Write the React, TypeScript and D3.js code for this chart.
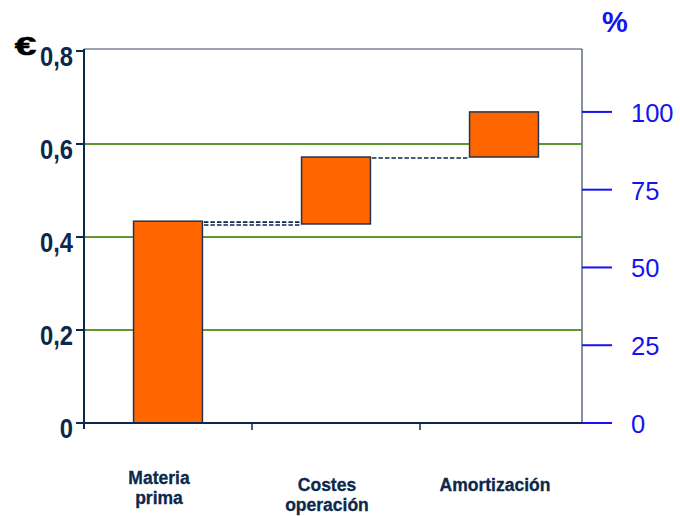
import React from "react";
import * as d3 from "d3";

// Cost breakdown per unit (€), drawn as a waterfall
const categories = ["Materia prima", "Costes operación", "Amortización"];
const categoryLines = [["Materia", "prima"], ["Costes", "operación"], ["Amortización"]];
const barStart = [0, 0.428, 0.572];
const barEnd = [0.434, 0.572, 0.669];
const euroTicks = [0, 0.2, 0.4, 0.6, 0.8];
const euroTickLabels = ["0", "0,2", "0,4", "0,6", "0,8"];
const pctTicks = [0, 25, 50, 75, 100];

const W = 680;
const H = 516;
const LEFT = 84;
const RIGHT = 582;
const TOP = 49;

const NAVY = "#0c284c";
const FRAME = "#34465e";
const ORANGE = "#ff6600";
const GREEN = "#5e972c";
const BLUE = "#1414f0";

export default function App() {
  const y = d3.scaleLinear().domain([0, 0.8]).range([423, 51]);
  const total = barEnd[barEnd.length - 1];
  const yPct = d3.scaleLinear().domain([0, 100]).range([y(0), y(total)]);
  const x = d3.scaleBand<string>().domain(categories).range([LEFT, 588]);
  const bw = x.bandwidth() * 0.41;
  const cx = (c: string) => (x(c) as number) + x.bandwidth() / 2;

  const boundaries = categories.slice(1).map((c) => x(c) as number);

  return (
    <svg
      width={W}
      height={H}
      style={{ position: "absolute", left: 0, top: 0, background: "#fff" }}
      fontFamily="'Liberation Sans', Arial, sans-serif"
    >
      {/* plot frame */}
      <line x1={LEFT} x2={RIGHT} y1={TOP} y2={TOP} stroke={FRAME} strokeWidth={1.2} />
      <line x1={RIGHT} x2={RIGHT} y1={TOP} y2={y(0)} stroke={FRAME} strokeWidth={1.2} />

      {/* horizontal gridlines */}
      {euroTicks
        .filter((t) => t > 0 && t < 0.8)
        .map((t) => (
          <line key={t} x1={LEFT} x2={RIGHT} y1={y(t)} y2={y(t)} stroke={GREEN} strokeWidth={2} />
        ))}

      {/* connectors between steps */}
      {categories.slice(0, -1).map((c, i) => {
        const x1 = cx(c) + bw / 2 - 5;
        const x2 = cx(categories[i + 1]) - bw / 2;
        const levels = barEnd[i] === barStart[i + 1] ? [barEnd[i]] : [barEnd[i], barStart[i + 1]];
        return levels.map((lv, j) => (
          <line
            key={`${i}-${j}`}
            x1={x1}
            x2={x2}
            y1={y(lv) + 1}
            y2={y(lv) + 1}
            stroke={NAVY}
            strokeWidth={1.7}
            strokeDasharray="4.5,2"
          />
        ));
      })}

      {/* bars */}
      {categories.map((c, i) => (
        <rect
          key={c}
          x={cx(c) - bw / 2}
          y={y(barEnd[i])}
          width={bw}
          height={y(barStart[i]) - y(barEnd[i])}
          fill={ORANGE}
          stroke="#22344f"
          strokeWidth={1.5}
        />
      ))}

      {/* left € axis */}
      <line x1={LEFT} x2={LEFT} y1={TOP} y2={y(0) + 6} stroke={NAVY} strokeWidth={2} />
      {euroTicks.map((t, i) => (
        <g key={t}>
          <line x1={LEFT - 8} x2={LEFT} y1={y(t)} y2={y(t)} stroke={NAVY} strokeWidth={2} />
          <text
            transform={`translate(73,${y(t) + 15}) scale(0.88,1)`}
            textAnchor="end"
            fontSize={27}
            fontWeight="bold"
            fill={NAVY}
          >
            {euroTickLabels[i]}
          </text>
        </g>
      ))}
      <text
        transform="translate(25.5,55) scale(1.55,1)"
        textAnchor="middle"
        fontSize={25}
        fontWeight="bold"
        fill="#000"
        stroke="#000"
        strokeWidth={0.6}
      >
        €
      </text>

      {/* category axis */}
      <line x1={LEFT} x2={RIGHT} y1={y(0)} y2={y(0)} stroke={NAVY} strokeWidth={2} />
      {boundaries.map((b) => (
        <line key={b} x1={b} x2={b} y1={y(0)} y2={y(0) + 7} stroke={NAVY} strokeWidth={1.5} />
      ))}
      {categories.map((c, i) =>
        categoryLines[i].map((ln, j) => (
          <text
            key={`${c}-${j}`}
            x={cx(c) - 9}
            y={(i === 0 ? 484 : 491) + j * 20}
            textAnchor="middle"
            fontSize={17.5}
            fontWeight="bold"
            fill={NAVY}
            stroke={NAVY}
            strokeWidth={0.3}
          >
            {ln}
          </text>
        ))
      )}

      {/* right % axis */}
      {pctTicks.map((p) => (
        <g key={p}>
          <line x1={RIGHT} x2={612} y1={yPct(p)} y2={yPct(p)} stroke={BLUE} strokeWidth={2} />
          <text x={631} y={yPct(p) + 10} fontSize={25.5} fill={BLUE}>
            {p}
          </text>
        </g>
      ))}
      <text x={615} y={32} textAnchor="middle" fontSize={29} fontWeight="bold" fill={BLUE}>
        %
      </text>
    </svg>
  );
}
